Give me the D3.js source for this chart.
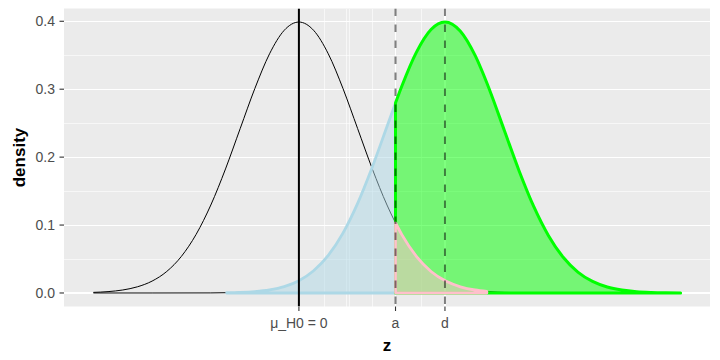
<!DOCTYPE html>
<html><head><meta charset="utf-8">
<script src="https://cdn.jsdelivr.net/npm/d3@7"></script>
<style>body{margin:0;background:#fff}svg{display:block}</style>
</head><body>
<svg id="c" width="720" height="360"></svg>
<script>
// ---- data ----
const xBreaks = [0, 1.645, 2.487];
const xLabels = ["μ_H0 = 0", "a", "d"];
const xMinorBreaks = [0.43, 0.81, 0.86, 1.26, 2.09];
const yBreaks = [0, 0.1, 0.2, 0.3, 0.4];
const yLabels = ["0.0", "0.1", "0.2", "0.3", "0.4"];
const yMinorBreaks = [0.05, 0.15, 0.25, 0.35];

// H0 density (black curve)
const h0Z = [-3.5,-3.25,-3,-2.75,-2.5,-2.25,-2,-1.75,-1.5,-1.25,-1,-0.75,-0.5,-0.25,0,0.25,0.5,0.75,1,1.25,1.5,1.75,2,2.25,2.5,2.75,3,3.25,3.5,3.75,4,4.25,4.5,4.75,5,5.25,5.5,5.75,6,6.25,6.5];
const h0Density = [0.0009,0.0020,0.0044,0.0091,0.0175,0.0317,0.0540,0.0863,0.1295,0.1826,0.2420,0.3011,0.3521,0.3867,0.3989,0.3867,0.3521,0.3011,0.2420,0.1826,0.1295,0.0863,0.0540,0.0317,0.0175,0.0091,0.0044,0.0020,0.0009,0.0004,0.0001,0,0,0,0,0,0,0,0,0,0];

// H1 density, left tail (black)
const h1TailZ = [-3.5, -2.5, -1.5];
const h1TailDensity = [0, 0, 0.0001];

// H1 density up to a (light blue, beta)
const betaZ = [-1.23,-1.0,-0.75,-0.5,-0.25,0,0.25,0.5,0.75,1.0,1.25,1.5,1.645];
const betaDensity = [0.0004,0.0009,0.0021,0.0046,0.0094,0.0181,0.0327,0.0554,0.0882,0.1320,0.1856,0.2451,0.2798];

// H1 density from a (green, power)
const powerZ = [1.645,1.75,2.0,2.25,2.487,2.75,3.0,3.25,3.5,3.75,4.0,4.25,4.5,4.75,5.0,5.25,5.5,5.75,6.0,6.25,6.5];
const powerDensity = [0.2798,0.3040,0.3543,0.3879,0.3989,0.3853,0.3497,0.2982,0.2388,0.1797,0.1270,0.0843,0.0526,0.0308,0.0170,0.0088,0.0043,0.0019,0.0008,0.0003,0.0001];

// H0 density from a (pink, alpha)
const alphaZ = [1.645,1.75,2.0,2.25,2.5,2.75,3.0,3.2];
const alphaDensity = [0.1031,0.0863,0.0540,0.0317,0.0175,0.0091,0.0044,0.0024];

// ---- chart ----
const svg = d3.select("#c");
const P = {l: 64, r: 710, t: 8.5, b: 306.5};
const x = d3.scaleLinear().domain([-4, 7]).range([P.l, P.r]);
const y = d3.scaleLinear().domain([-0.0199, 0.4188]).range([P.b, P.t]);

svg.append("rect").attr("x", P.l).attr("y", P.t).attr("width", P.r - P.l).attr("height", P.b - P.t).attr("fill", "#EBEBEB");

const grid = svg.append("g").attr("shape-rendering", "crispEdges");
yMinorBreaks.forEach(v => grid.append("line").attr("x1", P.l).attr("x2", P.r).attr("y1", y(v)).attr("y2", y(v)).attr("stroke", "#fff").attr("stroke-width", 0.6));
xMinorBreaks.forEach(v => grid.append("line").attr("y1", P.t).attr("y2", P.b).attr("x1", x(v)).attr("x2", x(v)).attr("stroke", "#fff").attr("stroke-width", 0.6));
yBreaks.forEach(v => grid.append("line").attr("x1", P.l).attr("x2", P.r).attr("y1", y(v)).attr("y2", y(v)).attr("stroke", "#fff").attr("stroke-width", 1.1));
xBreaks.forEach(v => grid.append("line").attr("y1", P.t).attr("y2", P.b).attr("x1", x(v)).attr("x2", x(v)).attr("stroke", "#fff").attr("stroke-width", 1.1));

svg.append("clipPath").attr("id", "clip").append("rect").attr("x", P.l).attr("y", P.t).attr("width", P.r - P.l).attr("height", P.b - P.t);
const g = svg.append("g").attr("clip-path", "url(#clip)");

const zip = (zs, ds) => zs.map((z, i) => [z, ds[i]]);
const line = d3.line().x(d => x(d[0])).y(d => y(d[1])).curve(d3.curveMonotoneX);
const area = d3.area().x(d => x(d[0])).y0(y(0)).y1(d => y(d[1])).curve(d3.curveMonotoneX);

// black curves
g.append("path").attr("d", line(zip(h0Z, h0Density))).attr("fill", "none").attr("stroke", "#000").attr("stroke-width", 1);
const h1All = zip(h1TailZ, h1TailDensity).concat(zip(betaZ, betaDensity)).concat(zip(powerZ, powerDensity).slice(1));
g.append("path").attr("d", line(h1All)).attr("fill", "none").attr("stroke", "#000").attr("stroke-width", 1);

// light blue
g.append("path").attr("d", area(zip(betaZ, betaDensity))).attr("fill", "lightblue").attr("fill-opacity", 0.5)
  .attr("stroke", "lightblue").attr("stroke-width", 2.8).attr("stroke-linejoin", "round");
// green
g.append("path").attr("d", area(zip(powerZ, powerDensity))).attr("fill", "#00FF00").attr("fill-opacity", 0.5)
  .attr("stroke", "#00FF00").attr("stroke-width", 3).attr("stroke-linejoin", "round");
// pink
g.append("path").attr("d", area(zip(alphaZ, alphaDensity))).attr("fill", "pink").attr("fill-opacity", 0.5)
  .attr("stroke", "pink").attr("stroke-width", 2.8).attr("stroke-linejoin", "round");

// vertical lines
g.append("line").attr("x1", x(xBreaks[0])).attr("x2", x(xBreaks[0])).attr("y1", P.t).attr("y2", P.b).attr("stroke", "#000").attr("stroke-width", 2);
[xBreaks[1], xBreaks[2]].forEach(v => g.append("line").attr("x1", x(v)).attr("x2", x(v)).attr("y1", P.t).attr("y2", P.b)
  .attr("stroke", "#000").attr("stroke-opacity", 0.5).attr("stroke-width", 2).attr("stroke-dasharray", "7.5,8.5"));

// axes
const font = "'Liberation Sans', Arial, sans-serif";
const ax = svg.append("g");
yBreaks.forEach((v, i) => {
  ax.append("line").attr("x1", P.l - 4.5).attr("x2", P.l).attr("y1", y(v)).attr("y2", y(v)).attr("stroke", "#333").attr("stroke-width", 1.1);
  ax.append("text").attr("x", P.l - 9).attr("y", y(v)).attr("dy", "0.36em").attr("text-anchor", "end")
    .attr("font-family", font).attr("font-size", 14).attr("fill", "#4D4D4D").text(yLabels[i]);
});
xBreaks.forEach((v, i) => {
  ax.append("line").attr("x1", x(v)).attr("x2", x(v)).attr("y1", P.b).attr("y2", P.b + 4.5).attr("stroke", "#333").attr("stroke-width", 1.1);
  ax.append("text").attr("x", x(v)).attr("y", 328).attr("text-anchor", "middle")
    .attr("font-family", font).attr("font-size", 14).attr("fill", "#4D4D4D").text(xLabels[i]);
});
svg.append("text").attr("x", (P.l + P.r) / 2).attr("y", 351).attr("text-anchor", "middle")
  .attr("font-family", font).attr("font-size", 17).attr("font-weight", "bold").attr("fill", "#000").text("z");
svg.append("text").attr("transform", `translate(25,${(P.t + P.b) / 2}) rotate(-90)`).attr("text-anchor", "middle")
  .attr("font-family", font).attr("font-size", 17).attr("font-weight", "bold").attr("fill", "#000").text("density");
</script>
</body></html>
